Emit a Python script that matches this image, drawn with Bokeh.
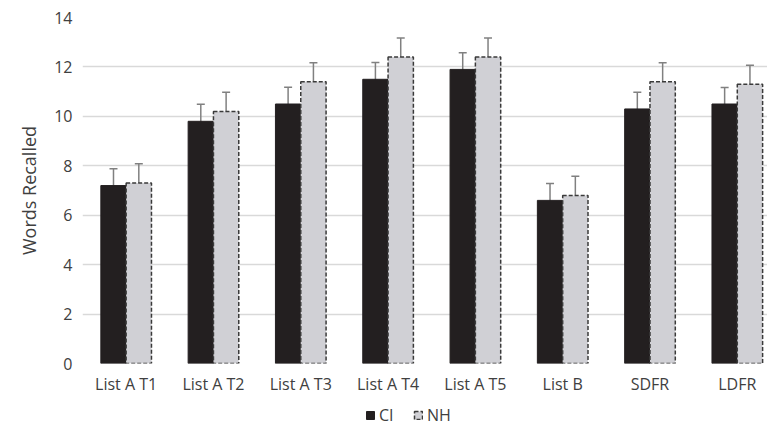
import numpy as np
from bokeh.plotting import figure
from bokeh.layouts import column
from bokeh.models import (Range1d, Whisker, ColumnDataSource, Legend, LegendItem,
                          FixedTicker, TeeHead)
from bokeh.embed import file_html
from bokeh.resources import INLINE

categories = ["List A T1", "List A T2", "List A T3", "List A T4", "List A T5",
              "List B", "SDFR", "LDFR"]
ci_mean = [7.2, 9.8, 10.5, 11.5, 11.9, 6.6, 10.3, 10.5]
ci_err = [0.68, 0.69, 0.68, 0.68, 0.67, 0.68, 0.68, 0.67]
nh_mean = [7.3, 10.2, 11.4, 12.4, 12.4, 6.8, 11.4, 11.3]
nh_err = [0.78, 0.78, 0.77, 0.77, 0.77, 0.78, 0.77, 0.77]
y_ticks = [0, 2, 4, 6, 8, 10, 12, 14]
series_names = ["CI", "NH"]

FONT = "Open Sans"
TEXT = "#404040"
CI_STYLE = dict(fill_color="#231f20", line_color="#231f20", line_width=1)
NH_STYLE = dict(fill_color="#d0d0d5", line_color="#3a3a3a", line_width=1.5, line_dash="4 2")

x = np.arange(len(categories)) + 0.5
off = 0.145
bw = 0.29

ci_src = ColumnDataSource(dict(x=x - off, top=ci_mean,
                               upper=np.array(ci_mean) + np.array(ci_err),
                               lower=np.array(ci_mean) - np.array(ci_err)))
nh_src = ColumnDataSource(dict(x=x + off, top=nh_mean,
                               upper=np.array(nh_mean) + np.array(nh_err),
                               lower=np.array(nh_mean) - np.array(nh_err)))

p = figure(frame_width=685, frame_height=346, output_backend="svg", toolbar_location=None,
           x_range=Range1d(0, 7.846), y_range=Range1d(0, 14),
           min_border_left=82, min_border_right=0, min_border_top=17, min_border_bottom=0)
p.outline_line_color = None

p.vbar(x="x", top="top", width=bw, source=ci_src, **CI_STYLE)
p.vbar(x="x", top="top", width=bw, source=nh_src, **NH_STYLE)

for src in (ci_src, nh_src):
    w = Whisker(base="x", upper="upper", lower="lower", source=src,
                line_color="#808080", line_width=1.5,
                upper_head=TeeHead(size=8, line_color="#808080", line_width=1.5),
                lower_head=TeeHead(size=8, line_color="#808080", line_width=1.5))
    p.add_layout(w)

# axes
p.xaxis.ticker = FixedTicker(ticks=list(x))
p.xaxis.major_label_overrides = {float(v): c for v, c in zip(x, categories)}
p.xaxis.axis_line_color = None
p.xaxis.major_tick_line_color = None
p.xaxis.minor_tick_line_color = None
p.xaxis.major_tick_out = 0
p.xaxis.major_tick_in = 0
p.xaxis.major_label_text_font = FONT
p.xaxis.major_label_text_font_size = "16px"
p.xaxis.major_label_text_color = TEXT
p.xaxis.major_label_standoff = 9

p.yaxis.ticker = FixedTicker(ticks=y_ticks)
p.yaxis.axis_line_color = None
p.yaxis.major_tick_line_color = None
p.yaxis.minor_tick_line_color = None
p.yaxis.major_tick_out = 0
p.yaxis.major_tick_in = 0
p.yaxis.major_label_text_font = FONT
p.yaxis.major_label_text_font_size = "16px"
p.yaxis.major_label_text_color = TEXT
p.yaxis.major_label_standoff = 10
p.yaxis.axis_label = "Words Recalled"
p.yaxis.axis_label_text_font = FONT
p.yaxis.axis_label_text_font_size = "18px"
p.yaxis.axis_label_text_font_style = "normal"
p.yaxis.axis_label_text_color = TEXT
p.yaxis.axis_label_standoff = 10

p.xgrid.grid_line_color = None
p.ygrid.grid_line_color = "#d9d9d9"
p.ygrid.grid_line_width = 1.5

# legend strip below the chart (dummy renderers sit entirely outside its ranges)
lg = figure(width=767, height=30, output_backend="svg", toolbar_location=None,
            x_range=Range1d(0, 1), y_range=Range1d(0, 1),
            x_axis_type=None, y_axis_type=None,
            min_border_left=0, min_border_right=0, min_border_top=0, min_border_bottom=0)
lg.outline_line_color = None
lg.xgrid.grid_line_color = None
lg.ygrid.grid_line_color = None
d_ci = lg.vbar(x=[-50], top=[-50], bottom=[-60], width=0.1, **CI_STYLE)
d_nh = lg.vbar(x=[-50], top=[-50], bottom=[-60], width=0.1, **NH_STYLE)

legend = Legend(items=[LegendItem(label=series_names[0], renderers=[d_ci]),
                       LegendItem(label=series_names[1], renderers=[d_nh])],
                orientation="horizontal", location=(283, 1),
                label_text_font=FONT, label_text_font_size="16px",
                label_text_color=TEXT, glyph_width=10, glyph_height=10,
                label_standoff=4, spacing=14, padding=0, margin=0,
                label_height=16,
                border_line_color=None, background_fill_alpha=0)
lg.add_layout(legend)

layout = column(p, lg, spacing=0)
open("out.html", "w").write(file_html(layout, INLINE))
